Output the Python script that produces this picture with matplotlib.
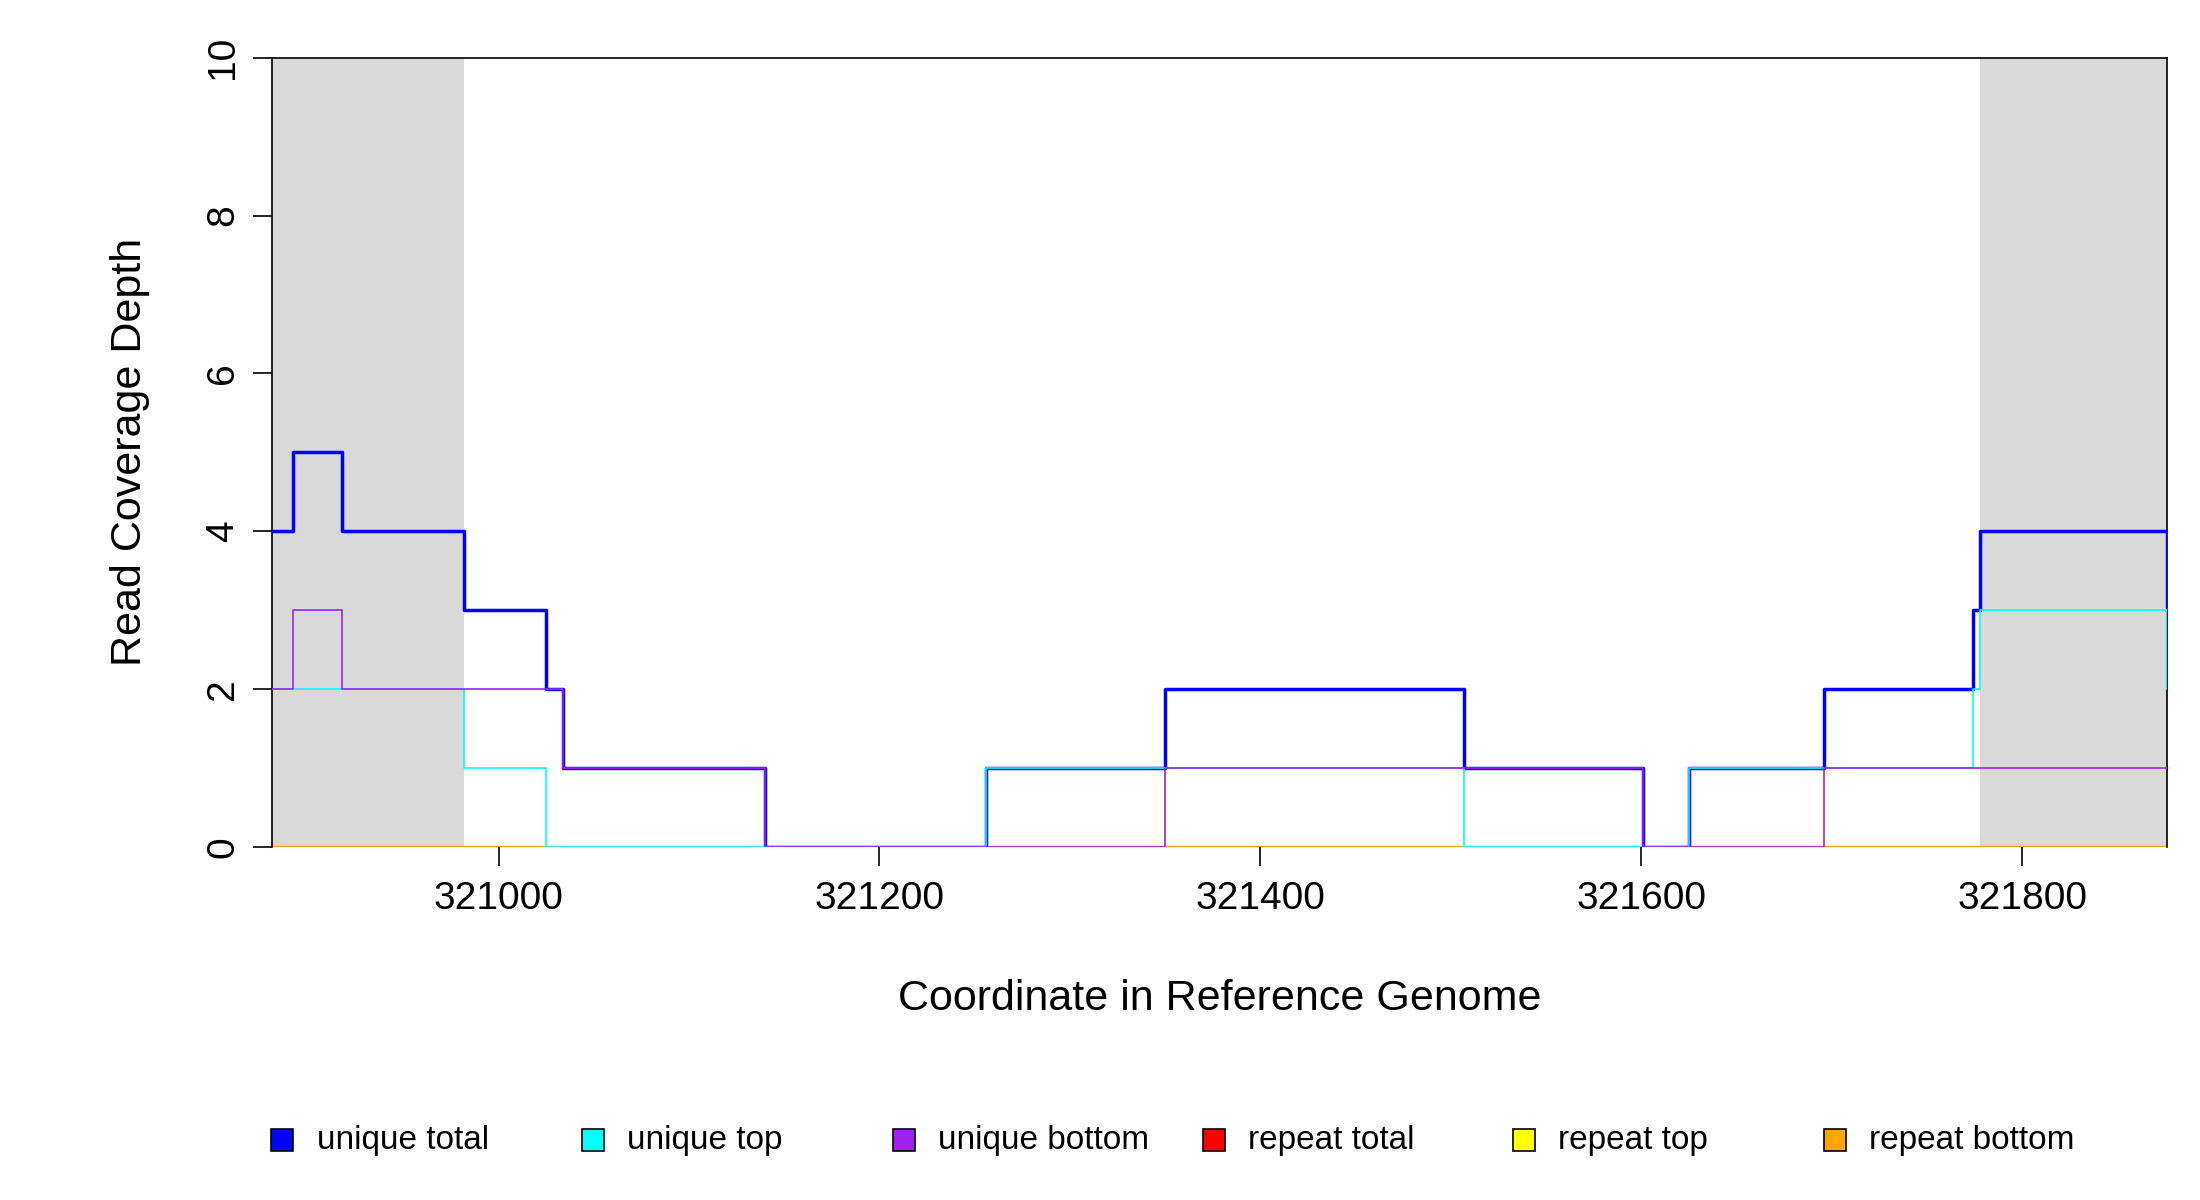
import matplotlib.pyplot as plt
from matplotlib.patches import Rectangle

# step change positions (genome coordinate) and values after each change
x_edges = [320881, 320892, 320918, 320982, 321025, 321034, 321140, 321256, 321350,
           321507, 321601, 321625, 321696, 321774, 321778, 321876]
unique_total = [4, 5, 4, 3, 2, 1, 0, 1, 2, 1, 0, 1, 2, 3, 4]
unique_top = [2, 2, 2, 1, 0, 0, 0, 1, 1, 0, 0, 1, 1, 2, 3]
unique_bottom = [2, 3, 2, 2, 2, 1, 0, 0, 1, 1, 0, 0, 1, 1, 1]
unique_total_end = 3
unique_top_end = 2
repeat_zero = [0] * len(unique_total)
shaded = [(320881, 320982), (321778, 321876)]

labels = ["unique total", "unique top", "unique bottom", "repeat total", "repeat top", "repeat bottom"]
colors = ["blue", "cyan", "purple", "red", "yellow", "orange"]
colors[2] = "#A020F0"
colors[4] = "#FFFF00"
colors[5] = "#FFA500"

plt.rcParams["font.family"] = ["Liberation Sans", "DejaVu Sans"]
fig = plt.figure(figsize=(22, 12), dpi=100)
ax = fig.add_axes([0.1236, 0.294, 0.8614, 0.658])

for a, b in shaded:
    ax.axvspan(a, b, color="#D9D9D9", lw=0, zorder=0)


def step(vals, end=None, **kw):
    xs = list(x_edges)
    ys = list(vals) + [vals[-1]]
    ax.step(xs, ys, where="post", **kw)
    if end is not None:
        ax.plot([x_edges[-1], x_edges[-1]], [vals[-1], end], **kw)


for c in colors[3:]:
    step(repeat_zero, color=c, lw=1.5, zorder=2)
step(unique_total, unique_total_end, color=colors[0], lw=2.5, zorder=3)
step(unique_top, unique_top_end, color=colors[1], lw=1.2, zorder=4)
step(unique_bottom, color=colors[2], lw=1.2, zorder=4)

ax.set_xlim(x_edges[0], x_edges[-1])
ax.set_ylim(0, 10)
ax.spines["bottom"].set_visible(False)
for s in ["left", "top", "right"]:
    ax.spines[s].set_linewidth(1.2)
ax.spines["left"].set_bounds(0, 10)
ax.set_yticks([0, 2, 4, 6, 8, 10])
ax.set_yticklabels(["0", "2", "4", "6", "8", "10"], rotation=90, va="center")
ax.set_xticks([321000, 321200, 321400, 321600, 321800])
ax.tick_params(axis="both", labelsize=28, length=14, width=1.2, pad=10)
ax.tick_params(axis="y", pad=8)
ax.set_xlabel("Coordinate in Reference Genome", fontsize=31, labelpad=45)
ax.set_ylabel("Read Coverage Depth", fontsize=31, labelpad=40)

legend_x = [0.1284, 0.2697, 0.411, 0.5516, 0.6929, 0.8342]
for lx, lab, c in zip(legend_x, labels, colors):
    fig.patches.append(Rectangle((lx - 0.005, 0.041), 0.01, 0.018, transform=fig.transFigure,
                                 facecolor=c, edgecolor="black", lw=1.2))
    fig.text(lx + 0.0155, 0.05, lab, fontsize=24, va="center", ha="left")

fig.savefig("out.png", dpi=100)
